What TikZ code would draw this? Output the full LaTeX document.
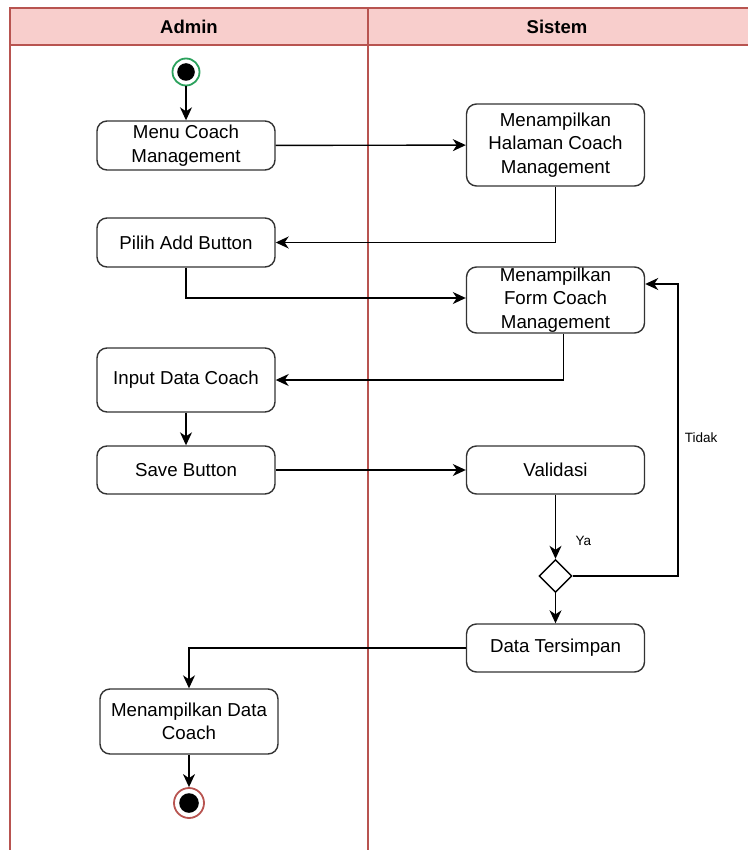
\documentclass[tikz,border=0pt]{standalone}
\usepackage{fontspec}
\setmainfont{Liberation Sans}
\usetikzlibrary{arrows.meta,shapes.geometric,positioning}
\definecolor{lanefill}{HTML}{F8CECC}
\definecolor{lanestroke}{HTML}{B85450}
\definecolor{startgreen}{HTML}{2BA15C}
\definecolor{boxstroke}{HTML}{333333}
\begin{document}
\begin{tikzpicture}[x=1pt,y=-1pt,
  font=\fontsize{18.7}{23.5}\selectfont,
  act/.style={draw=boxstroke,line width=1.4pt,rounded corners=10pt,fill=white,
    minimum width=178pt,align=center,inner sep=0pt},
  flow/.style={draw=black,line width=1.4pt,-{Stealth[length=13pt,width=12pt,inset=4pt]}},
  lane/.style={draw=lanestroke,line width=1.5pt},
  guard/.style={font=\fontsize{13.5}{16}\selectfont}]
\useasboundingbox (0,0) rectangle (747,850);

% swimlane frame and headers
\fill[lanefill] (10,8) rectangle (760,45);
\draw[lane] (760,8) -- (10,8) -- (10,851);
\draw[lane] (10,45) -- (760,45);
\draw[lane] (368,8) -- (368,851);
\node[font=\bfseries\fontsize{18.5}{22}\selectfont] (hadmin) at (189,26.5) {Admin};
\node[font=\bfseries\fontsize{18.5}{22}\selectfont] (hsistem) at (557,26.5) {Sistem};

% start and end states
\node[circle,draw=startgreen,line width=1.8pt,minimum size=27pt,inner sep=0pt] (start) at (186,72) {};
\fill[black] (start.center) circle (8.8pt);
\node[circle,draw=lanestroke,line width=1.8pt,minimum size=30pt,inner sep=0pt] (stop) at (189,803) {};
\fill[black] (stop.center) circle (9.8pt);

% activities
\node[act,minimum height=49pt] (menu) at (186,145.5) {Menu Coach\\Management};
\node[act,minimum height=82pt] (halaman) at (555.5,145) {Menampilkan\\Halaman Coach\\Management};
\node[act,minimum height=49pt] (pilih) at (186,242.5) {Pilih Add Button};
\node[act,minimum height=66pt] (form) at (555.5,300) {Menampilkan\\Form Coach\\Management};
\node[act,minimum height=64pt] (input) at (186,380) {Input Data Coach};
\node[act,minimum height=48pt] (save) at (186,470) {Save Button};
\node[act,minimum height=48pt] (valid) at (555.5,470) {Validasi};
\node[diamond,draw=black,line width=1.4pt,minimum size=33pt,inner sep=0pt,fill=white] (dec) at (555.5,576) {};
\node[act,minimum height=48pt] (simpan) at (555.5,648) {Data Tersimpan};
\node[act,minimum height=65pt] (tampil) at (189,721.5) {Menampilkan Data\\Coach};

% helper point for the loop back
\coordinate (retx) at (678,0);

% connectors
\draw[flow] (start) -- (menu);
\draw[flow] (menu) -- (halaman);
\draw[flow] (halaman.south) |- (pilih.east);
\draw[flow] (pilih.south) |- ([yshift=2pt]form.west);
\draw[flow] ([xshift=8pt]form.south) |- (input.east);
\draw[flow] (input) -- (save);
\draw[flow] (save) -- (valid);
\draw[flow] (valid) -- node[guard,right,pos=0.72,xshift=16pt]{Ya} (dec);
\draw[flow] (dec.east) -| (retx |- dec.east) |- ([yshift=16pt]form.east);
\draw[flow] (dec) -- (simpan);
\draw[flow] (simpan.west) -| (tampil.north);
\draw[flow] (tampil) -- (stop);

% guard on the loop back
\node[guard] (tidak) at (701,438) {Tidak};
\end{tikzpicture}
\end{document}
